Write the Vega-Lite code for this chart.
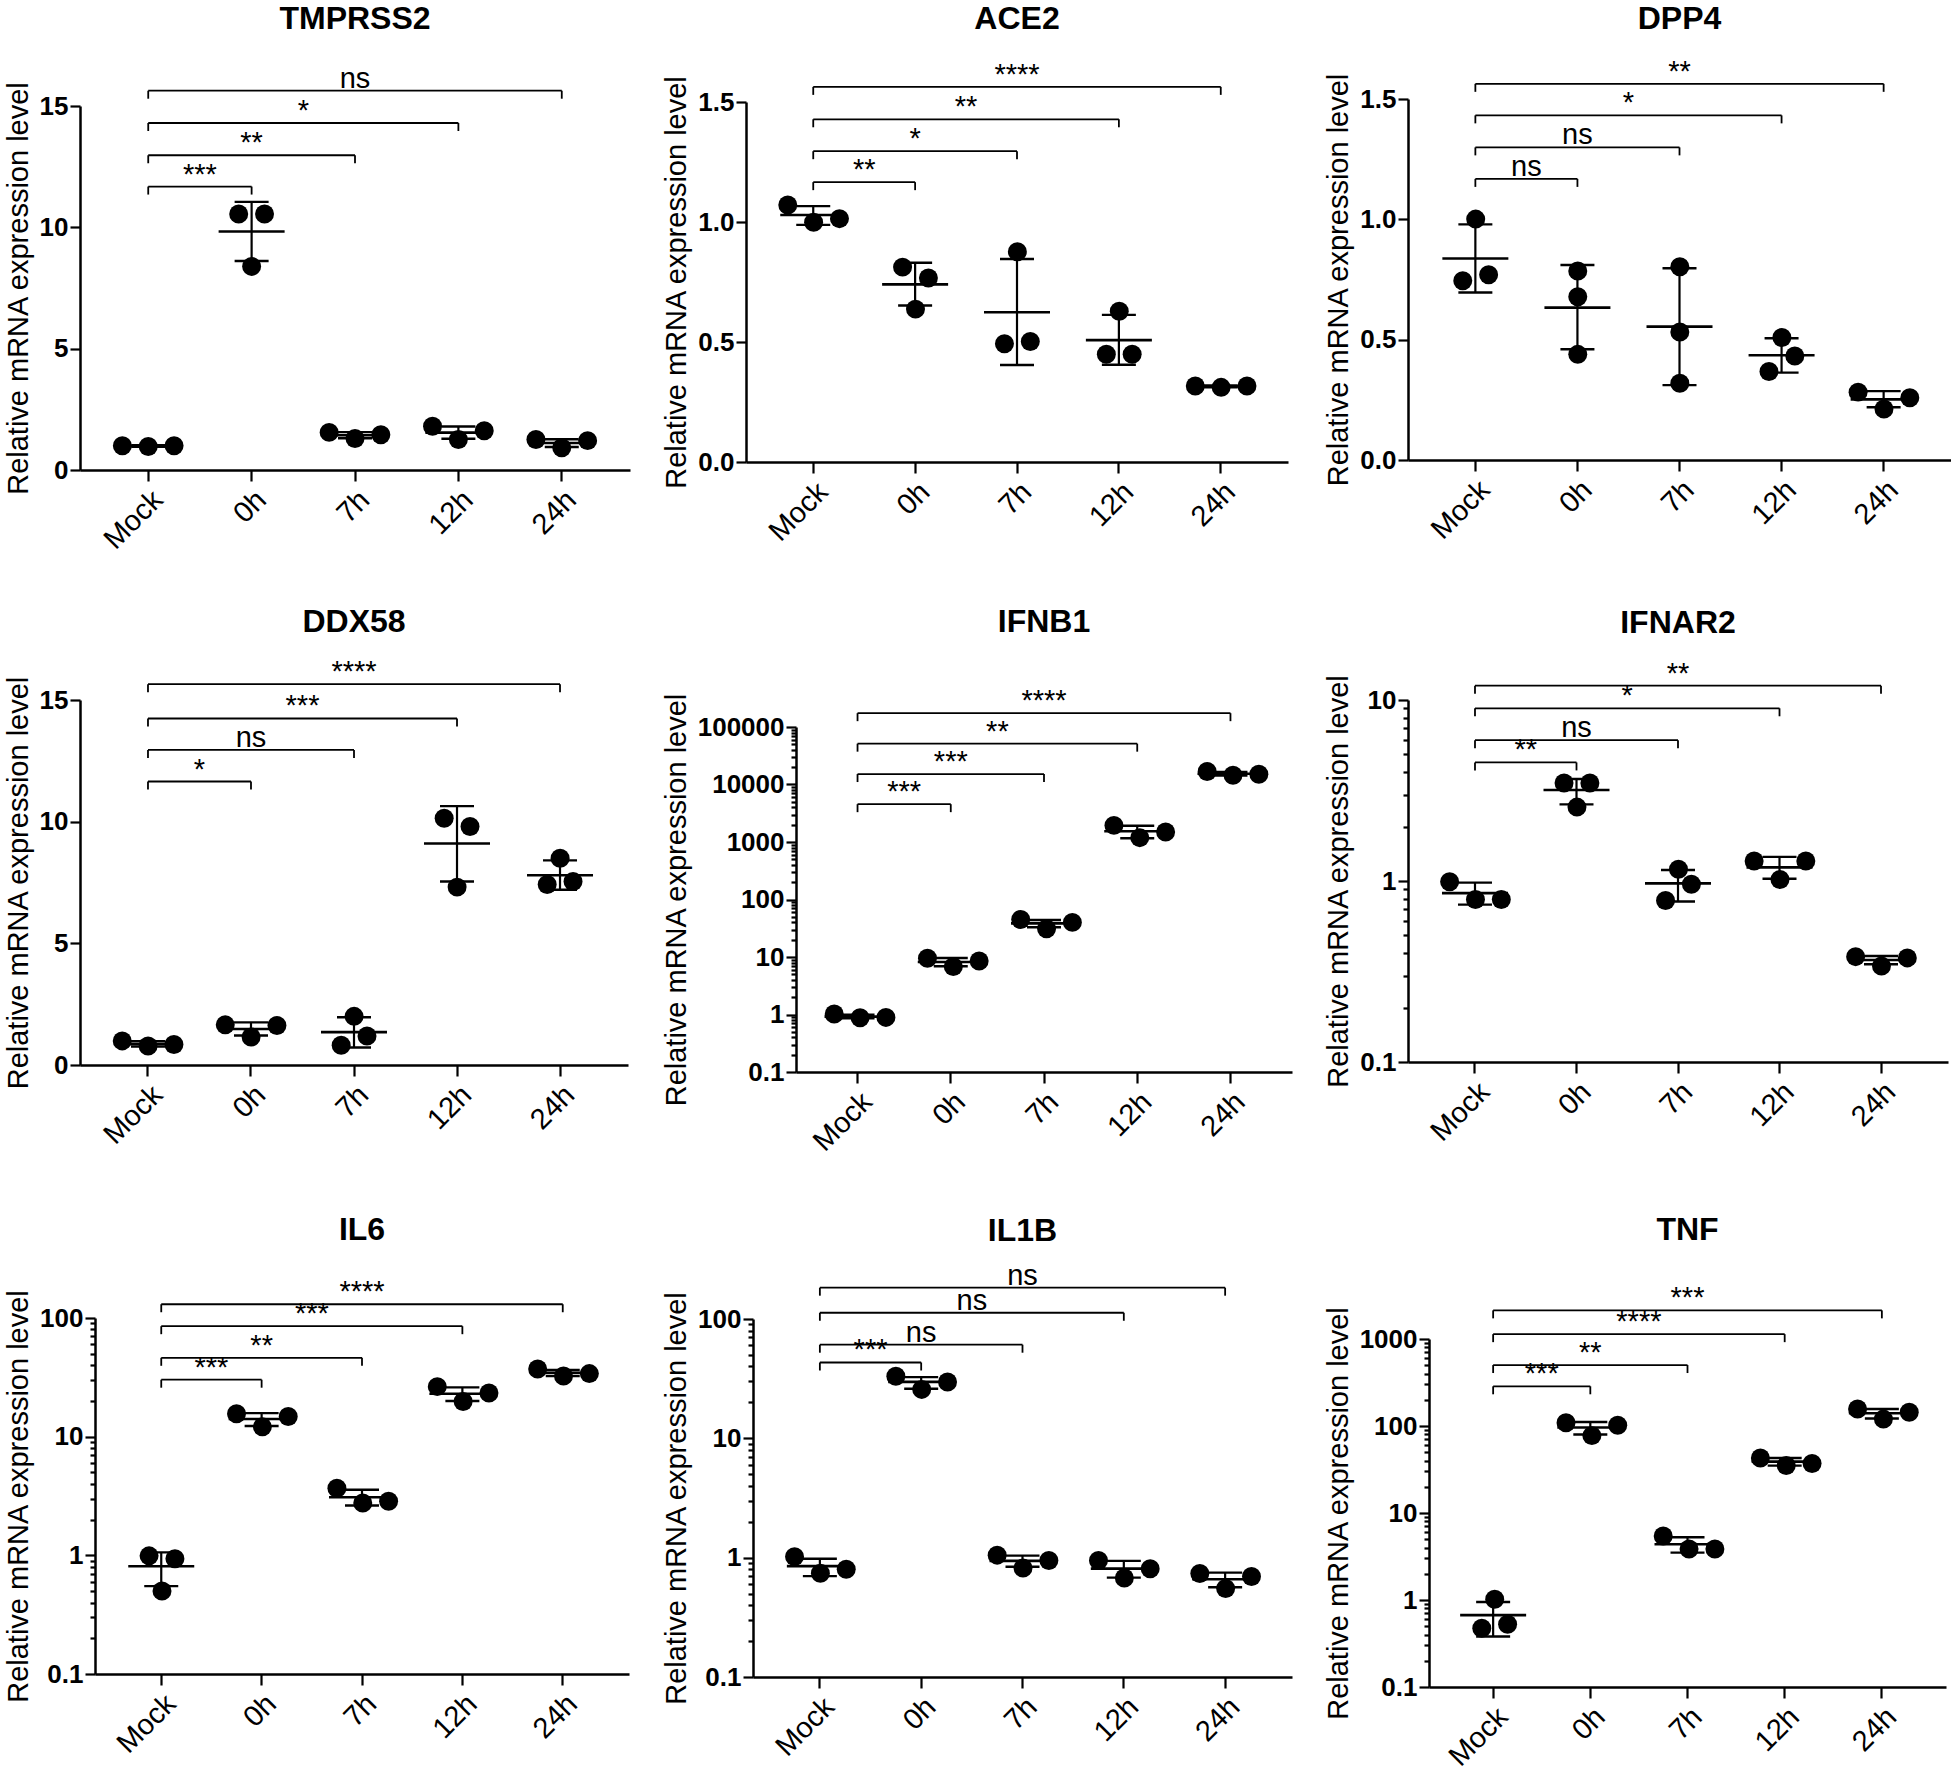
{
  "$schema": "https://vega.github.io/schema/vega-lite/v6.json",
  "padding": {"left": 3, "top": 1, "right": 0, "bottom": 0},
  "background": "white",
  "columns": 3,
  "spacing": {"row": 50, "column": 31},
  "datasets": {
    "pts": [
      {"g": "TMPRSS2", "t": "Mock", "s": "L", "v": 1.0}, {"g": "TMPRSS2", "t": "Mock", "s": "C", "v": 0.97}, {"g": "TMPRSS2", "t": "Mock", "s": "R", "v": 1.0},
      {"g": "TMPRSS2", "t": "0h", "s": "l", "v": 10.55}, {"g": "TMPRSS2", "t": "0h", "s": "r", "v": 10.55}, {"g": "TMPRSS2", "t": "0h", "s": "C", "v": 8.39},
      {"g": "TMPRSS2", "t": "7h", "s": "L", "v": 1.55}, {"g": "TMPRSS2", "t": "7h", "s": "C", "v": 1.3}, {"g": "TMPRSS2", "t": "7h", "s": "R", "v": 1.45},
      {"g": "TMPRSS2", "t": "12h", "s": "L", "v": 1.8}, {"g": "TMPRSS2", "t": "12h", "s": "C", "v": 1.26}, {"g": "TMPRSS2", "t": "12h", "s": "R", "v": 1.62},
      {"g": "TMPRSS2", "t": "24h", "s": "L", "v": 1.26}, {"g": "TMPRSS2", "t": "24h", "s": "C", "v": 0.92}, {"g": "TMPRSS2", "t": "24h", "s": "R", "v": 1.21},
      {"g": "ACE2", "t": "Mock", "s": "L", "v": 1.071}, {"g": "ACE2", "t": "Mock", "s": "C", "v": 0.999}, {"g": "ACE2", "t": "Mock", "s": "R", "v": 1.014},
      {"g": "ACE2", "t": "0h", "s": "l", "v": 0.812}, {"g": "ACE2", "t": "0h", "s": "r", "v": 0.767}, {"g": "ACE2", "t": "0h", "s": "C", "v": 0.637},
      {"g": "ACE2", "t": "7h", "s": "C", "v": 0.876}, {"g": "ACE2", "t": "7h", "s": "l", "v": 0.493}, {"g": "ACE2", "t": "7h", "s": "r", "v": 0.502},
      {"g": "ACE2", "t": "12h", "s": "C", "v": 0.628}, {"g": "ACE2", "t": "12h", "s": "l", "v": 0.449}, {"g": "ACE2", "t": "12h", "s": "r", "v": 0.449},
      {"g": "ACE2", "t": "24h", "s": "L", "v": 0.317}, {"g": "ACE2", "t": "24h", "s": "C", "v": 0.311}, {"g": "ACE2", "t": "24h", "s": "R", "v": 0.317},
      {"g": "DPP4", "t": "Mock", "s": "C", "v": 1.001}, {"g": "DPP4", "t": "Mock", "s": "l", "v": 0.745}, {"g": "DPP4", "t": "Mock", "s": "r", "v": 0.77},
      {"g": "DPP4", "t": "0h", "s": "C", "v": 0.785}, {"g": "DPP4", "t": "0h", "s": "C", "v": 0.678}, {"g": "DPP4", "t": "0h", "s": "C", "v": 0.439},
      {"g": "DPP4", "t": "7h", "s": "C", "v": 0.803}, {"g": "DPP4", "t": "7h", "s": "C", "v": 0.532}, {"g": "DPP4", "t": "7h", "s": "C", "v": 0.319},
      {"g": "DPP4", "t": "12h", "s": "C", "v": 0.509}, {"g": "DPP4", "t": "12h", "s": "r", "v": 0.432}, {"g": "DPP4", "t": "12h", "s": "l", "v": 0.368},
      {"g": "DPP4", "t": "24h", "s": "L", "v": 0.282}, {"g": "DPP4", "t": "24h", "s": "R", "v": 0.259}, {"g": "DPP4", "t": "24h", "s": "C", "v": 0.212},
      {"g": "DDX58", "t": "Mock", "s": "L", "v": 0.99}, {"g": "DDX58", "t": "Mock", "s": "C", "v": 0.78}, {"g": "DDX58", "t": "Mock", "s": "R", "v": 0.84},
      {"g": "DDX58", "t": "0h", "s": "L", "v": 1.65}, {"g": "DDX58", "t": "0h", "s": "C", "v": 1.15}, {"g": "DDX58", "t": "0h", "s": "R", "v": 1.62},
      {"g": "DDX58", "t": "7h", "s": "C", "v": 2.0}, {"g": "DDX58", "t": "7h", "s": "r", "v": 1.19}, {"g": "DDX58", "t": "7h", "s": "l", "v": 0.81},
      {"g": "DDX58", "t": "12h", "s": "l", "v": 10.14}, {"g": "DDX58", "t": "12h", "s": "r", "v": 9.8}, {"g": "DDX58", "t": "12h", "s": "C", "v": 7.31},
      {"g": "DDX58", "t": "24h", "s": "C", "v": 8.5}, {"g": "DDX58", "t": "24h", "s": "l", "v": 7.42}, {"g": "DDX58", "t": "24h", "s": "r", "v": 7.54},
      {"g": "IFNB1", "t": "Mock", "s": "L", "v": 1.02}, {"g": "IFNB1", "t": "Mock", "s": "C", "v": 0.88}, {"g": "IFNB1", "t": "Mock", "s": "R", "v": 0.89},
      {"g": "IFNB1", "t": "0h", "s": "L", "v": 9.5}, {"g": "IFNB1", "t": "0h", "s": "C", "v": 6.8}, {"g": "IFNB1", "t": "0h", "s": "R", "v": 8.5},
      {"g": "IFNB1", "t": "7h", "s": "L", "v": 45}, {"g": "IFNB1", "t": "7h", "s": "C", "v": 31}, {"g": "IFNB1", "t": "7h", "s": "R", "v": 40},
      {"g": "IFNB1", "t": "12h", "s": "L", "v": 1945}, {"g": "IFNB1", "t": "12h", "s": "C", "v": 1190}, {"g": "IFNB1", "t": "12h", "s": "R", "v": 1490},
      {"g": "IFNB1", "t": "24h", "s": "L", "v": 16800}, {"g": "IFNB1", "t": "24h", "s": "C", "v": 14500}, {"g": "IFNB1", "t": "24h", "s": "R", "v": 15100},
      {"g": "IFNAR2", "t": "Mock", "s": "L", "v": 0.99}, {"g": "IFNAR2", "t": "Mock", "s": "C", "v": 0.79}, {"g": "IFNAR2", "t": "Mock", "s": "R", "v": 0.79},
      {"g": "IFNAR2", "t": "0h", "s": "l", "v": 3.48}, {"g": "IFNAR2", "t": "0h", "s": "r", "v": 3.48}, {"g": "IFNAR2", "t": "0h", "s": "C", "v": 2.56},
      {"g": "IFNAR2", "t": "7h", "s": "C", "v": 1.16}, {"g": "IFNAR2", "t": "7h", "s": "r", "v": 0.96}, {"g": "IFNAR2", "t": "7h", "s": "l", "v": 0.78},
      {"g": "IFNAR2", "t": "12h", "s": "L", "v": 1.29}, {"g": "IFNAR2", "t": "12h", "s": "R", "v": 1.29}, {"g": "IFNAR2", "t": "12h", "s": "C", "v": 1.02},
      {"g": "IFNAR2", "t": "24h", "s": "L", "v": 0.382}, {"g": "IFNAR2", "t": "24h", "s": "R", "v": 0.376}, {"g": "IFNAR2", "t": "24h", "s": "C", "v": 0.339},
      {"g": "IL6", "t": "Mock", "s": "l", "v": 0.99}, {"g": "IL6", "t": "Mock", "s": "r", "v": 0.935}, {"g": "IL6", "t": "Mock", "s": "C", "v": 0.5},
      {"g": "IL6", "t": "0h", "s": "L", "v": 15.6}, {"g": "IL6", "t": "0h", "s": "R", "v": 14.8}, {"g": "IL6", "t": "0h", "s": "C", "v": 12.1},
      {"g": "IL6", "t": "7h", "s": "L", "v": 3.68}, {"g": "IL6", "t": "7h", "s": "C", "v": 2.76}, {"g": "IL6", "t": "7h", "s": "R", "v": 2.86},
      {"g": "IL6", "t": "12h", "s": "L", "v": 26.4}, {"g": "IL6", "t": "12h", "s": "C", "v": 19.8}, {"g": "IL6", "t": "12h", "s": "R", "v": 23.3},
      {"g": "IL6", "t": "24h", "s": "L", "v": 37.2}, {"g": "IL6", "t": "24h", "s": "C", "v": 32.5}, {"g": "IL6", "t": "24h", "s": "R", "v": 34.0},
      {"g": "IL1B", "t": "Mock", "s": "L", "v": 1.02}, {"g": "IL1B", "t": "Mock", "s": "C", "v": 0.74}, {"g": "IL1B", "t": "Mock", "s": "R", "v": 0.8},
      {"g": "IL1B", "t": "0h", "s": "L", "v": 33.1}, {"g": "IL1B", "t": "0h", "s": "C", "v": 25.7}, {"g": "IL1B", "t": "0h", "s": "R", "v": 29.7},
      {"g": "IL1B", "t": "7h", "s": "L", "v": 1.05}, {"g": "IL1B", "t": "7h", "s": "C", "v": 0.82}, {"g": "IL1B", "t": "7h", "s": "R", "v": 0.946},
      {"g": "IL1B", "t": "12h", "s": "L", "v": 0.946}, {"g": "IL1B", "t": "12h", "s": "C", "v": 0.675}, {"g": "IL1B", "t": "12h", "s": "R", "v": 0.807},
      {"g": "IL1B", "t": "24h", "s": "L", "v": 0.736}, {"g": "IL1B", "t": "24h", "s": "C", "v": 0.552}, {"g": "IL1B", "t": "24h", "s": "R", "v": 0.695},
      {"g": "TNF", "t": "Mock", "s": "C", "v": 1.02}, {"g": "TNF", "t": "Mock", "s": "r", "v": 0.527}, {"g": "TNF", "t": "Mock", "s": "l", "v": 0.473},
      {"g": "TNF", "t": "0h", "s": "L", "v": 109}, {"g": "TNF", "t": "0h", "s": "C", "v": 77.5}, {"g": "TNF", "t": "0h", "s": "R", "v": 102},
      {"g": "TNF", "t": "7h", "s": "L", "v": 5.43}, {"g": "TNF", "t": "7h", "s": "C", "v": 3.85}, {"g": "TNF", "t": "7h", "s": "R", "v": 3.85},
      {"g": "TNF", "t": "12h", "s": "L", "v": 42.9}, {"g": "TNF", "t": "12h", "s": "C", "v": 35.2}, {"g": "TNF", "t": "12h", "s": "R", "v": 37.0},
      {"g": "TNF", "t": "24h", "s": "L", "v": 157}, {"g": "TNF", "t": "24h", "s": "C", "v": 120}, {"g": "TNF", "t": "24h", "s": "R", "v": 144}
    ],
    "st": [
      {"g": "TMPRSS2", "t": "Mock", "m": 0.99, "lo": 0.96, "hi": 1.02}, {"g": "TMPRSS2", "t": "0h", "m": 9.83, "lo": 8.61, "hi": 11.05}, {"g": "TMPRSS2", "t": "7h", "m": 1.43, "lo": 1.31, "hi": 1.56}, {"g": "TMPRSS2", "t": "12h", "m": 1.54, "lo": 1.29, "hi": 1.79}, {"g": "TMPRSS2", "t": "24h", "m": 1.11, "lo": 0.95, "hi": 1.27},
      {"g": "ACE2", "t": "Mock", "m": 1.029, "lo": 0.988, "hi": 1.066}, {"g": "ACE2", "t": "0h", "m": 0.74, "lo": 0.652, "hi": 0.83}, {"g": "ACE2", "t": "7h", "m": 0.624, "lo": 0.404, "hi": 0.846}, {"g": "ACE2", "t": "12h", "m": 0.508, "lo": 0.405, "hi": 0.613}, {"g": "ACE2", "t": "24h", "m": 0.315, "lo": 0.311, "hi": 0.319},
      {"g": "DPP4", "t": "Mock", "m": 0.837, "lo": 0.696, "hi": 0.979}, {"g": "DPP4", "t": "0h", "m": 0.633, "lo": 0.46, "hi": 0.81}, {"g": "DPP4", "t": "7h", "m": 0.554, "lo": 0.311, "hi": 0.797}, {"g": "DPP4", "t": "12h", "m": 0.435, "lo": 0.363, "hi": 0.506}, {"g": "DPP4", "t": "24h", "m": 0.252, "lo": 0.219, "hi": 0.286},
      {"g": "DDX58", "t": "Mock", "m": 0.87, "lo": 0.76, "hi": 0.98}, {"g": "DDX58", "t": "0h", "m": 1.48, "lo": 1.21, "hi": 1.75}, {"g": "DDX58", "t": "7h", "m": 1.35, "lo": 0.72, "hi": 1.96}, {"g": "DDX58", "t": "12h", "m": 9.1, "lo": 7.54, "hi": 10.64}, {"g": "DDX58", "t": "24h", "m": 7.8, "lo": 7.2, "hi": 8.41},
      {"g": "IFNB1", "t": "Mock", "m": 0.92, "lo": 0.86, "hi": 0.99}, {"g": "IFNB1", "t": "0h", "m": 8.2, "lo": 6.9, "hi": 9.6}, {"g": "IFNB1", "t": "7h", "m": 38.5, "lo": 33, "hi": 44}, {"g": "IFNB1", "t": "12h", "m": 1540, "lo": 1165, "hi": 1920}, {"g": "IFNB1", "t": "24h", "m": 15400, "lo": 14300, "hi": 16600},
      {"g": "IFNAR2", "t": "Mock", "m": 0.857, "lo": 0.74, "hi": 0.98}, {"g": "IFNAR2", "t": "0h", "m": 3.18, "lo": 2.65, "hi": 3.66}, {"g": "IFNAR2", "t": "7h", "m": 0.97, "lo": 0.77, "hi": 1.15}, {"g": "IFNAR2", "t": "12h", "m": 1.19, "lo": 1.03, "hi": 1.36}, {"g": "IFNAR2", "t": "24h", "m": 0.366, "lo": 0.347, "hi": 0.385},
      {"g": "IL6", "t": "Mock", "m": 0.81, "lo": 0.55, "hi": 1.06}, {"g": "IL6", "t": "0h", "m": 14.1, "lo": 12.3, "hi": 15.8}, {"g": "IL6", "t": "7h", "m": 3.09, "lo": 2.63, "hi": 3.57}, {"g": "IL6", "t": "12h", "m": 23.0, "lo": 20.0, "hi": 26.0}, {"g": "IL6", "t": "24h", "m": 34.5, "lo": 32.4, "hi": 36.5},
      {"g": "IL1B", "t": "Mock", "m": 0.85, "lo": 0.7, "hi": 0.98}, {"g": "IL1B", "t": "0h", "m": 29.7, "lo": 26.0, "hi": 32.6}, {"g": "IL1B", "t": "7h", "m": 0.94, "lo": 0.84, "hi": 1.04}, {"g": "IL1B", "t": "12h", "m": 0.81, "lo": 0.68, "hi": 0.94}, {"g": "IL1B", "t": "24h", "m": 0.66, "lo": 0.565, "hi": 0.75},
      {"g": "TNF", "t": "Mock", "m": 0.67, "lo": 0.38, "hi": 0.95}, {"g": "TNF", "t": "0h", "m": 96, "lo": 80, "hi": 111}, {"g": "TNF", "t": "7h", "m": 4.38, "lo": 3.5, "hi": 5.27}, {"g": "TNF", "t": "12h", "m": 38.9, "lo": 35, "hi": 42.9}, {"g": "TNF", "t": "24h", "m": 140, "lo": 122, "hi": 157}
    ],
    "sig": [
      {"g": "TMPRSS2", "from": "Mock", "to": "0h", "mid": "a", "y": 11.68, "lab": "***"}, {"g": "TMPRSS2", "from": "Mock", "to": "7h", "mid": "0h", "y": 12.97, "lab": "**"}, {"g": "TMPRSS2", "from": "Mock", "to": "12h", "mid": "b", "y": 14.3, "lab": "*"}, {"g": "TMPRSS2", "from": "Mock", "to": "24h", "mid": "7h", "y": 15.63, "lab": "ns"},
      {"g": "ACE2", "from": "Mock", "to": "0h", "mid": "a", "y": 1.166, "lab": "**"}, {"g": "ACE2", "from": "Mock", "to": "7h", "mid": "0h", "y": 1.295, "lab": "*"}, {"g": "ACE2", "from": "Mock", "to": "12h", "mid": "b", "y": 1.428, "lab": "**"}, {"g": "ACE2", "from": "Mock", "to": "24h", "mid": "7h", "y": 1.563, "lab": "****"},
      {"g": "DPP4", "from": "Mock", "to": "0h", "mid": "a", "y": 1.168, "lab": "ns"}, {"g": "DPP4", "from": "Mock", "to": "7h", "mid": "0h", "y": 1.299, "lab": "ns"}, {"g": "DPP4", "from": "Mock", "to": "12h", "mid": "b", "y": 1.432, "lab": "*"}, {"g": "DPP4", "from": "Mock", "to": "24h", "mid": "7h", "y": 1.563, "lab": "**"},
      {"g": "DDX58", "from": "Mock", "to": "0h", "mid": "a", "y": 11.65, "lab": "*"}, {"g": "DDX58", "from": "Mock", "to": "7h", "mid": "0h", "y": 12.95, "lab": "ns"}, {"g": "DDX58", "from": "Mock", "to": "12h", "mid": "b", "y": 14.24, "lab": "***"}, {"g": "DDX58", "from": "Mock", "to": "24h", "mid": "7h", "y": 15.65, "lab": "****"},
      {"g": "IFNB1", "from": "Mock", "to": "0h", "mid": "a", "y": 4550, "lab": "***"}, {"g": "IFNB1", "from": "Mock", "to": "7h", "mid": "0h", "y": 15200, "lab": "***"}, {"g": "IFNB1", "from": "Mock", "to": "12h", "mid": "b", "y": 51300, "lab": "**"}, {"g": "IFNB1", "from": "Mock", "to": "24h", "mid": "7h", "y": 174000, "lab": "****"},
      {"g": "IFNAR2", "from": "Mock", "to": "0h", "mid": "a", "y": 4.52, "lab": "**"}, {"g": "IFNAR2", "from": "Mock", "to": "7h", "mid": "0h", "y": 6.0, "lab": "ns"}, {"g": "IFNAR2", "from": "Mock", "to": "12h", "mid": "b", "y": 9.0, "lab": "*"}, {"g": "IFNAR2", "from": "Mock", "to": "24h", "mid": "7h", "y": 12.0, "lab": "**"},
      {"g": "IL6", "from": "Mock", "to": "0h", "mid": "a", "y": 30.2, "lab": "***"}, {"g": "IL6", "from": "Mock", "to": "7h", "mid": "0h", "y": 46.2, "lab": "**"}, {"g": "IL6", "from": "Mock", "to": "12h", "mid": "b", "y": 85.3, "lab": "***"}, {"g": "IL6", "from": "Mock", "to": "24h", "mid": "7h", "y": 130.6, "lab": "****"},
      {"g": "IL1B", "from": "Mock", "to": "0h", "mid": "a", "y": 43.2, "lab": "***"}, {"g": "IL1B", "from": "Mock", "to": "7h", "mid": "0h", "y": 60.9, "lab": "ns"}, {"g": "IL1B", "from": "Mock", "to": "12h", "mid": "b", "y": 112.8, "lab": "ns"}, {"g": "IL1B", "from": "Mock", "to": "24h", "mid": "7h", "y": 183, "lab": "ns"},
      {"g": "TNF", "from": "Mock", "to": "0h", "mid": "a", "y": 286, "lab": "***"}, {"g": "TNF", "from": "Mock", "to": "7h", "mid": "0h", "y": 502, "lab": "**"}, {"g": "TNF", "from": "Mock", "to": "12h", "mid": "b", "y": 1137, "lab": "****"}, {"g": "TNF", "from": "Mock", "to": "24h", "mid": "7h", "y": 2134, "lab": "***"}
    ]
  },
  "concat": [
    {"spacing": 0, "vconcat": [
      {"width": 1, "height": 1, "data": {"values": []}, "mark": "point", "encoding": {}},
      {"spacing": 0, "hconcat": [
        {"width": 1, "height": 1, "data": {"values": []}, "mark": "point", "encoding": {}},
        {
          "width": 550, "height": 364, "title": {"text": "TMPRSS2", "offset": 29},
          "layer": [
            {"data": {"name": "sig"}, "transform": [{"filter": "datum.g == 'TMPRSS2'"}], "mark": {"type": "rule", "strokeWidth": 1.8, "color": "black"}, "encoding": {"x": {"field": "from", "type": "nominal", "title": null}, "x2": {"field": "to"}, "y": {"field": "y", "type": "quantitative", "title": "Relative mRNA expression level"}}},
            {"data": {"name": "sig"}, "transform": [{"filter": "datum.g == 'TMPRSS2'"}, {"fold": ["from", "to"], "as": ["end", "pos"]}], "mark": {"type": "rule", "strokeWidth": 1.8, "color": "black", "y2Offset": 8}, "encoding": {"x": {"field": "pos", "type": "nominal", "title": null}, "y": {"field": "y", "type": "quantitative", "title": "Relative mRNA expression level"}, "y2": {"field": "y"}}},
            {"data": {"name": "sig"}, "transform": [{"filter": "datum.g == 'TMPRSS2'"}], "mark": {"type": "text", "fontSize": 29, "baseline": "alphabetic", "dy": -3, "color": "black"}, "encoding": {"x": {"field": "mid", "type": "nominal", "title": null}, "y": {"field": "y", "type": "quantitative", "title": "Relative mRNA expression level"}, "text": {"field": "lab"}}},
            {"data": {"name": "st"}, "transform": [{"filter": "datum.g == 'TMPRSS2'"}], "mark": {"type": "rule", "strokeWidth": 2.2, "color": "black"}, "encoding": {"x": {"field": "t", "type": "nominal", "title": null}, "y": {"field": "lo", "type": "quantitative", "title": "Relative mRNA expression level"}, "y2": {"field": "hi"}}},
            {"data": {"name": "st"}, "transform": [{"filter": "datum.g == 'TMPRSS2'"}, {"fold": ["lo", "hi"], "as": ["k", "e"]}], "mark": {"type": "tick", "size": 34, "thickness": 2.4, "color": "black", "opacity": 1}, "encoding": {"x": {"field": "t", "type": "nominal", "title": null}, "y": {"field": "e", "type": "quantitative", "title": "Relative mRNA expression level"}}},
            {"data": {"name": "st"}, "transform": [{"filter": "datum.g == 'TMPRSS2'"}], "mark": {"type": "tick", "size": 66, "thickness": 2.6, "color": "black", "opacity": 1}, "encoding": {"x": {"field": "t", "type": "nominal", "title": null}, "y": {"field": "m", "type": "quantitative", "title": "Relative mRNA expression level"}}},
            {"data": {"name": "pts"}, "transform": [{"filter": "datum.g == 'TMPRSS2'"}], "mark": {"type": "circle", "size": 360, "color": "black", "opacity": 1}, "encoding": {"x": {"field": "t", "type": "nominal", "title": null, "scale": {"domain": ["Mock", "a", "0h", "b", "7h", "c", "12h", "d", "24h"], "paddingInner": 0, "paddingOuter": 0.82}, "axis": {"values": ["Mock", "0h", "7h", "12h", "24h"]}}, "xOffset": {"field": "s", "type": "nominal", "scale": {"domain": ["L", "l", "C", "r", "R"], "paddingInner": 0, "paddingOuter": 0}}, "y": {"field": "v", "type": "quantitative", "title": "Relative mRNA expression level", "scale": {"domain": [0, 15], "nice": false}, "axis": {"values": [0, 5, 10, 15]}}}}
          ]
        }
      ]}
    ]},
    {"spacing": 0, "vconcat": [
      {"width": 1, "height": 1, "data": {"values": []}, "mark": "point", "encoding": {}},
      {"spacing": 0, "hconcat": [
        {"width": 1, "height": 1, "data": {"values": []}, "mark": "point", "encoding": {}},
        {
          "width": 542, "height": 360, "title": {"text": "ACE2", "offset": 25},
          "layer": [
            {"data": {"name": "sig"}, "transform": [{"filter": "datum.g == 'ACE2'"}], "mark": {"type": "rule", "strokeWidth": 1.8, "color": "black"}, "encoding": {"x": {"field": "from", "type": "nominal", "title": null}, "x2": {"field": "to"}, "y": {"field": "y", "type": "quantitative", "title": "Relative mRNA expression level"}}},
            {"data": {"name": "sig"}, "transform": [{"filter": "datum.g == 'ACE2'"}, {"fold": ["from", "to"], "as": ["end", "pos"]}], "mark": {"type": "rule", "strokeWidth": 1.8, "color": "black", "y2Offset": 8}, "encoding": {"x": {"field": "pos", "type": "nominal", "title": null}, "y": {"field": "y", "type": "quantitative", "title": "Relative mRNA expression level"}, "y2": {"field": "y"}}},
            {"data": {"name": "sig"}, "transform": [{"filter": "datum.g == 'ACE2'"}], "mark": {"type": "text", "fontSize": 29, "baseline": "alphabetic", "dy": -3, "color": "black"}, "encoding": {"x": {"field": "mid", "type": "nominal", "title": null}, "y": {"field": "y", "type": "quantitative", "title": "Relative mRNA expression level"}, "text": {"field": "lab"}}},
            {"data": {"name": "st"}, "transform": [{"filter": "datum.g == 'ACE2'"}], "mark": {"type": "rule", "strokeWidth": 2.2, "color": "black"}, "encoding": {"x": {"field": "t", "type": "nominal", "title": null}, "y": {"field": "lo", "type": "quantitative", "title": "Relative mRNA expression level"}, "y2": {"field": "hi"}}},
            {"data": {"name": "st"}, "transform": [{"filter": "datum.g == 'ACE2'"}, {"fold": ["lo", "hi"], "as": ["k", "e"]}], "mark": {"type": "tick", "size": 34, "thickness": 2.4, "color": "black", "opacity": 1}, "encoding": {"x": {"field": "t", "type": "nominal", "title": null}, "y": {"field": "e", "type": "quantitative", "title": "Relative mRNA expression level"}}},
            {"data": {"name": "st"}, "transform": [{"filter": "datum.g == 'ACE2'"}], "mark": {"type": "tick", "size": 66, "thickness": 2.6, "color": "black", "opacity": 1}, "encoding": {"x": {"field": "t", "type": "nominal", "title": null}, "y": {"field": "m", "type": "quantitative", "title": "Relative mRNA expression level"}}},
            {"data": {"name": "pts"}, "transform": [{"filter": "datum.g == 'ACE2'"}], "mark": {"type": "circle", "size": 360, "color": "black", "opacity": 1}, "encoding": {"x": {"field": "t", "type": "nominal", "title": null, "scale": {"domain": ["Mock", "a", "0h", "b", "7h", "c", "12h", "d", "24h"], "paddingInner": 0, "paddingOuter": 0.82}, "axis": {"values": ["Mock", "0h", "7h", "12h", "24h"]}}, "xOffset": {"field": "s", "type": "nominal", "scale": {"domain": ["L", "l", "C", "r", "R"], "paddingInner": 0, "paddingOuter": 0}}, "y": {"field": "v", "type": "quantitative", "title": "Relative mRNA expression level", "scale": {"domain": [0, 1.5], "nice": false}, "axis": {"values": [0, 0.5, 1, 1.5], "format": ".1f"}}}}
          ]
        }
      ]}
    ]},
    {"spacing": 0, "vconcat": [
      {"width": 1, "height": 1, "data": {"values": []}, "mark": "point", "encoding": {}},
      {"spacing": 0, "hconcat": [
        {"width": 1, "height": 1, "data": {"values": []}, "mark": "point", "encoding": {}},
        {
          "width": 543, "height": 361, "title": {"text": "DPP4", "offset": 22},
          "layer": [
            {"data": {"name": "sig"}, "transform": [{"filter": "datum.g == 'DPP4'"}], "mark": {"type": "rule", "strokeWidth": 1.8, "color": "black"}, "encoding": {"x": {"field": "from", "type": "nominal", "title": null}, "x2": {"field": "to"}, "y": {"field": "y", "type": "quantitative", "title": "Relative mRNA expression level"}}},
            {"data": {"name": "sig"}, "transform": [{"filter": "datum.g == 'DPP4'"}, {"fold": ["from", "to"], "as": ["end", "pos"]}], "mark": {"type": "rule", "strokeWidth": 1.8, "color": "black", "y2Offset": 8}, "encoding": {"x": {"field": "pos", "type": "nominal", "title": null}, "y": {"field": "y", "type": "quantitative", "title": "Relative mRNA expression level"}, "y2": {"field": "y"}}},
            {"data": {"name": "sig"}, "transform": [{"filter": "datum.g == 'DPP4'"}], "mark": {"type": "text", "fontSize": 29, "baseline": "alphabetic", "dy": -3, "color": "black"}, "encoding": {"x": {"field": "mid", "type": "nominal", "title": null}, "y": {"field": "y", "type": "quantitative", "title": "Relative mRNA expression level"}, "text": {"field": "lab"}}},
            {"data": {"name": "st"}, "transform": [{"filter": "datum.g == 'DPP4'"}], "mark": {"type": "rule", "strokeWidth": 2.2, "color": "black"}, "encoding": {"x": {"field": "t", "type": "nominal", "title": null}, "y": {"field": "lo", "type": "quantitative", "title": "Relative mRNA expression level"}, "y2": {"field": "hi"}}},
            {"data": {"name": "st"}, "transform": [{"filter": "datum.g == 'DPP4'"}, {"fold": ["lo", "hi"], "as": ["k", "e"]}], "mark": {"type": "tick", "size": 34, "thickness": 2.4, "color": "black", "opacity": 1}, "encoding": {"x": {"field": "t", "type": "nominal", "title": null}, "y": {"field": "e", "type": "quantitative", "title": "Relative mRNA expression level"}}},
            {"data": {"name": "st"}, "transform": [{"filter": "datum.g == 'DPP4'"}], "mark": {"type": "tick", "size": 66, "thickness": 2.6, "color": "black", "opacity": 1}, "encoding": {"x": {"field": "t", "type": "nominal", "title": null}, "y": {"field": "m", "type": "quantitative", "title": "Relative mRNA expression level"}}},
            {"data": {"name": "pts"}, "transform": [{"filter": "datum.g == 'DPP4'"}], "mark": {"type": "circle", "size": 360, "color": "black", "opacity": 1}, "encoding": {"x": {"field": "t", "type": "nominal", "title": null, "scale": {"domain": ["Mock", "a", "0h", "b", "7h", "c", "12h", "d", "24h"], "paddingInner": 0, "paddingOuter": 0.82}, "axis": {"values": ["Mock", "0h", "7h", "12h", "24h"]}}, "xOffset": {"field": "s", "type": "nominal", "scale": {"domain": ["L", "l", "C", "r", "R"], "paddingInner": 0, "paddingOuter": 0}}, "y": {"field": "v", "type": "quantitative", "title": "Relative mRNA expression level", "scale": {"domain": [0, 1.5], "nice": false}, "axis": {"values": [0, 0.5, 1, 1.5], "format": ".1f"}}}}
          ]
        }
      ]}
    ]},
    {"spacing": 0, "vconcat": [
      {"width": 1, "height": 1, "data": {"values": []}, "mark": "point", "encoding": {}},
      {"spacing": 0, "hconcat": [
        {"width": 1, "height": 1, "data": {"values": []}, "mark": "point", "encoding": {}},
        {
          "width": 548, "height": 365, "title": {"text": "DDX58", "offset": 19},
          "layer": [
            {"data": {"name": "sig"}, "transform": [{"filter": "datum.g == 'DDX58'"}], "mark": {"type": "rule", "strokeWidth": 1.8, "color": "black"}, "encoding": {"x": {"field": "from", "type": "nominal", "title": null}, "x2": {"field": "to"}, "y": {"field": "y", "type": "quantitative", "title": "Relative mRNA expression level"}}},
            {"data": {"name": "sig"}, "transform": [{"filter": "datum.g == 'DDX58'"}, {"fold": ["from", "to"], "as": ["end", "pos"]}], "mark": {"type": "rule", "strokeWidth": 1.8, "color": "black", "y2Offset": 8}, "encoding": {"x": {"field": "pos", "type": "nominal", "title": null}, "y": {"field": "y", "type": "quantitative", "title": "Relative mRNA expression level"}, "y2": {"field": "y"}}},
            {"data": {"name": "sig"}, "transform": [{"filter": "datum.g == 'DDX58'"}], "mark": {"type": "text", "fontSize": 29, "baseline": "alphabetic", "dy": -3, "color": "black"}, "encoding": {"x": {"field": "mid", "type": "nominal", "title": null}, "y": {"field": "y", "type": "quantitative", "title": "Relative mRNA expression level"}, "text": {"field": "lab"}}},
            {"data": {"name": "st"}, "transform": [{"filter": "datum.g == 'DDX58'"}], "mark": {"type": "rule", "strokeWidth": 2.2, "color": "black"}, "encoding": {"x": {"field": "t", "type": "nominal", "title": null}, "y": {"field": "lo", "type": "quantitative", "title": "Relative mRNA expression level"}, "y2": {"field": "hi"}}},
            {"data": {"name": "st"}, "transform": [{"filter": "datum.g == 'DDX58'"}, {"fold": ["lo", "hi"], "as": ["k", "e"]}], "mark": {"type": "tick", "size": 34, "thickness": 2.4, "color": "black", "opacity": 1}, "encoding": {"x": {"field": "t", "type": "nominal", "title": null}, "y": {"field": "e", "type": "quantitative", "title": "Relative mRNA expression level"}}},
            {"data": {"name": "st"}, "transform": [{"filter": "datum.g == 'DDX58'"}], "mark": {"type": "tick", "size": 66, "thickness": 2.6, "color": "black", "opacity": 1}, "encoding": {"x": {"field": "t", "type": "nominal", "title": null}, "y": {"field": "m", "type": "quantitative", "title": "Relative mRNA expression level"}}},
            {"data": {"name": "pts"}, "transform": [{"filter": "datum.g == 'DDX58'"}], "mark": {"type": "circle", "size": 360, "color": "black", "opacity": 1}, "encoding": {"x": {"field": "t", "type": "nominal", "title": null, "scale": {"domain": ["Mock", "a", "0h", "b", "7h", "c", "12h", "d", "24h"], "paddingInner": 0, "paddingOuter": 0.82}, "axis": {"values": ["Mock", "0h", "7h", "12h", "24h"]}}, "xOffset": {"field": "s", "type": "nominal", "scale": {"domain": ["L", "l", "C", "r", "R"], "paddingInner": 0, "paddingOuter": 0}}, "y": {"field": "v", "type": "quantitative", "title": "Relative mRNA expression level", "scale": {"domain": [0, 15], "nice": false}, "axis": {"values": [0, 5, 10, 15]}}}}
          ]
        }
      ]}
    ]},
    {"spacing": 0, "vconcat": [
      {"width": 1, "height": 1, "data": {"values": []}, "mark": "point", "encoding": {}},
      {"spacing": 0, "hconcat": [
        {"width": 1, "height": 1, "data": {"values": []}, "mark": "point", "encoding": {}},
        {
          "width": 496, "height": 345, "title": {"text": "IFNB1", "offset": 48},
          "layer": [
            {"data": {"name": "sig"}, "transform": [{"filter": "datum.g == 'IFNB1'"}], "mark": {"type": "rule", "strokeWidth": 1.8, "color": "black"}, "encoding": {"x": {"field": "from", "type": "nominal", "title": null}, "x2": {"field": "to"}, "y": {"field": "y", "type": "quantitative", "title": "Relative mRNA expression level"}}},
            {"data": {"name": "sig"}, "transform": [{"filter": "datum.g == 'IFNB1'"}, {"fold": ["from", "to"], "as": ["end", "pos"]}], "mark": {"type": "rule", "strokeWidth": 1.8, "color": "black", "y2Offset": 8}, "encoding": {"x": {"field": "pos", "type": "nominal", "title": null}, "y": {"field": "y", "type": "quantitative", "title": "Relative mRNA expression level"}, "y2": {"field": "y"}}},
            {"data": {"name": "sig"}, "transform": [{"filter": "datum.g == 'IFNB1'"}], "mark": {"type": "text", "fontSize": 29, "baseline": "alphabetic", "dy": -3, "color": "black"}, "encoding": {"x": {"field": "mid", "type": "nominal", "title": null}, "y": {"field": "y", "type": "quantitative", "title": "Relative mRNA expression level"}, "text": {"field": "lab"}}},
            {"data": {"name": "st"}, "transform": [{"filter": "datum.g == 'IFNB1'"}], "mark": {"type": "rule", "strokeWidth": 2.2, "color": "black"}, "encoding": {"x": {"field": "t", "type": "nominal", "title": null}, "y": {"field": "lo", "type": "quantitative", "title": "Relative mRNA expression level"}, "y2": {"field": "hi"}}},
            {"data": {"name": "st"}, "transform": [{"filter": "datum.g == 'IFNB1'"}, {"fold": ["lo", "hi"], "as": ["k", "e"]}], "mark": {"type": "tick", "size": 34, "thickness": 2.4, "color": "black", "opacity": 1}, "encoding": {"x": {"field": "t", "type": "nominal", "title": null}, "y": {"field": "e", "type": "quantitative", "title": "Relative mRNA expression level"}}},
            {"data": {"name": "st"}, "transform": [{"filter": "datum.g == 'IFNB1'"}], "mark": {"type": "tick", "size": 66, "thickness": 2.6, "color": "black", "opacity": 1}, "encoding": {"x": {"field": "t", "type": "nominal", "title": null}, "y": {"field": "m", "type": "quantitative", "title": "Relative mRNA expression level"}}},
            {"data": {"name": "pts"}, "transform": [{"filter": "datum.g == 'IFNB1'"}], "mark": {"type": "circle", "size": 360, "color": "black", "opacity": 1}, "encoding": {"x": {"field": "t", "type": "nominal", "title": null, "scale": {"domain": ["Mock", "a", "0h", "b", "7h", "c", "12h", "d", "24h"], "paddingInner": 0, "paddingOuter": 0.82}, "axis": {"values": ["Mock", "0h", "7h", "12h", "24h"]}}, "xOffset": {"field": "s", "type": "nominal", "scale": {"domain": ["L", "l", "C", "r", "R"], "paddingInner": 0, "paddingOuter": 0}}, "y": {"field": "v", "type": "quantitative", "title": "Relative mRNA expression level", "scale": {"type": "log", "domain": [0.1, 100000], "nice": false}, "axis": {"values": [0.1, 0.2, 0.3, 0.4, 0.5, 0.6, 0.7, 0.8, 0.9, 1, 2, 3, 4, 5, 6, 7, 8, 9, 10, 20, 30, 40, 50, 60, 70, 80, 90, 100, 200, 300, 400, 500, 600, 700, 800, 900, 1000, 2000, 3000, 4000, 5000, 6000, 7000, 8000, 9000, 10000, 20000, 30000, 40000, 50000, 60000, 70000, 80000, 90000, 100000], "labelOverlap": false, "labelExpr": "abs(log(datum.value)/LN10 - round(log(datum.value)/LN10)) < 0.000001 ? format(datum.value, '~g') : ''", "tickSize": {"condition": {"test": "abs(log(datum.value)/LN10 - round(log(datum.value)/LN10)) < 0.000001", "value": 10}, "value": 5}}}}}
          ]
        }
      ]}
    ]},
    {"spacing": 0, "vconcat": [
      {"width": 1, "height": 1, "data": {"values": []}, "mark": "point", "encoding": {}},
      {"spacing": 0, "hconcat": [
        {"width": 1, "height": 1, "data": {"values": []}, "mark": "point", "encoding": {}},
        {
          "width": 540, "height": 362, "title": {"text": "IFNAR2", "offset": 20},
          "layer": [
            {"data": {"name": "sig"}, "transform": [{"filter": "datum.g == 'IFNAR2'"}], "mark": {"type": "rule", "strokeWidth": 1.8, "color": "black"}, "encoding": {"x": {"field": "from", "type": "nominal", "title": null}, "x2": {"field": "to"}, "y": {"field": "y", "type": "quantitative", "title": "Relative mRNA expression level"}}},
            {"data": {"name": "sig"}, "transform": [{"filter": "datum.g == 'IFNAR2'"}, {"fold": ["from", "to"], "as": ["end", "pos"]}], "mark": {"type": "rule", "strokeWidth": 1.8, "color": "black", "y2Offset": 8}, "encoding": {"x": {"field": "pos", "type": "nominal", "title": null}, "y": {"field": "y", "type": "quantitative", "title": "Relative mRNA expression level"}, "y2": {"field": "y"}}},
            {"data": {"name": "sig"}, "transform": [{"filter": "datum.g == 'IFNAR2'"}], "mark": {"type": "text", "fontSize": 29, "baseline": "alphabetic", "dy": -3, "color": "black"}, "encoding": {"x": {"field": "mid", "type": "nominal", "title": null}, "y": {"field": "y", "type": "quantitative", "title": "Relative mRNA expression level"}, "text": {"field": "lab"}}},
            {"data": {"name": "st"}, "transform": [{"filter": "datum.g == 'IFNAR2'"}], "mark": {"type": "rule", "strokeWidth": 2.2, "color": "black"}, "encoding": {"x": {"field": "t", "type": "nominal", "title": null}, "y": {"field": "lo", "type": "quantitative", "title": "Relative mRNA expression level"}, "y2": {"field": "hi"}}},
            {"data": {"name": "st"}, "transform": [{"filter": "datum.g == 'IFNAR2'"}, {"fold": ["lo", "hi"], "as": ["k", "e"]}], "mark": {"type": "tick", "size": 34, "thickness": 2.4, "color": "black", "opacity": 1}, "encoding": {"x": {"field": "t", "type": "nominal", "title": null}, "y": {"field": "e", "type": "quantitative", "title": "Relative mRNA expression level"}}},
            {"data": {"name": "st"}, "transform": [{"filter": "datum.g == 'IFNAR2'"}], "mark": {"type": "tick", "size": 66, "thickness": 2.6, "color": "black", "opacity": 1}, "encoding": {"x": {"field": "t", "type": "nominal", "title": null}, "y": {"field": "m", "type": "quantitative", "title": "Relative mRNA expression level"}}},
            {"data": {"name": "pts"}, "transform": [{"filter": "datum.g == 'IFNAR2'"}], "mark": {"type": "circle", "size": 360, "color": "black", "opacity": 1}, "encoding": {"x": {"field": "t", "type": "nominal", "title": null, "scale": {"domain": ["Mock", "a", "0h", "b", "7h", "c", "12h", "d", "24h"], "paddingInner": 0, "paddingOuter": 0.82}, "axis": {"values": ["Mock", "0h", "7h", "12h", "24h"]}}, "xOffset": {"field": "s", "type": "nominal", "scale": {"domain": ["L", "l", "C", "r", "R"], "paddingInner": 0, "paddingOuter": 0}}, "y": {"field": "v", "type": "quantitative", "title": "Relative mRNA expression level", "scale": {"type": "log", "domain": [0.1, 10], "nice": false}, "axis": {"values": [0.1, 0.2, 0.3, 0.4, 0.5, 0.6, 0.7, 0.8, 0.9, 1, 2, 3, 4, 5, 6, 7, 8, 9, 10], "labelOverlap": false, "labelExpr": "abs(log(datum.value)/LN10 - round(log(datum.value)/LN10)) < 0.000001 ? format(datum.value, '~g') : ''", "tickSize": {"condition": {"test": "abs(log(datum.value)/LN10 - round(log(datum.value)/LN10)) < 0.000001", "value": 10}, "value": 5}}}}}
          ]
        }
      ]}
    ]},
    {"spacing": 0, "vconcat": [
      {"width": 1, "height": 7, "data": {"values": []}, "mark": "point", "encoding": {}},
      {"spacing": 0, "hconcat": [
        {"width": 1, "height": 1, "data": {"values": []}, "mark": "point", "encoding": {}},
        {
          "width": 534, "height": 356, "title": {"text": "IL6", "offset": 31},
          "layer": [
            {"data": {"name": "sig"}, "transform": [{"filter": "datum.g == 'IL6'"}], "mark": {"type": "rule", "strokeWidth": 1.8, "color": "black"}, "encoding": {"x": {"field": "from", "type": "nominal", "title": null}, "x2": {"field": "to"}, "y": {"field": "y", "type": "quantitative", "title": "Relative mRNA expression level"}}},
            {"data": {"name": "sig"}, "transform": [{"filter": "datum.g == 'IL6'"}, {"fold": ["from", "to"], "as": ["end", "pos"]}], "mark": {"type": "rule", "strokeWidth": 1.8, "color": "black", "y2Offset": 8}, "encoding": {"x": {"field": "pos", "type": "nominal", "title": null}, "y": {"field": "y", "type": "quantitative", "title": "Relative mRNA expression level"}, "y2": {"field": "y"}}},
            {"data": {"name": "sig"}, "transform": [{"filter": "datum.g == 'IL6'"}], "mark": {"type": "text", "fontSize": 29, "baseline": "alphabetic", "dy": -3, "color": "black"}, "encoding": {"x": {"field": "mid", "type": "nominal", "title": null}, "y": {"field": "y", "type": "quantitative", "title": "Relative mRNA expression level"}, "text": {"field": "lab"}}},
            {"data": {"name": "st"}, "transform": [{"filter": "datum.g == 'IL6'"}], "mark": {"type": "rule", "strokeWidth": 2.2, "color": "black"}, "encoding": {"x": {"field": "t", "type": "nominal", "title": null}, "y": {"field": "lo", "type": "quantitative", "title": "Relative mRNA expression level"}, "y2": {"field": "hi"}}},
            {"data": {"name": "st"}, "transform": [{"filter": "datum.g == 'IL6'"}, {"fold": ["lo", "hi"], "as": ["k", "e"]}], "mark": {"type": "tick", "size": 34, "thickness": 2.4, "color": "black", "opacity": 1}, "encoding": {"x": {"field": "t", "type": "nominal", "title": null}, "y": {"field": "e", "type": "quantitative", "title": "Relative mRNA expression level"}}},
            {"data": {"name": "st"}, "transform": [{"filter": "datum.g == 'IL6'"}], "mark": {"type": "tick", "size": 66, "thickness": 2.6, "color": "black", "opacity": 1}, "encoding": {"x": {"field": "t", "type": "nominal", "title": null}, "y": {"field": "m", "type": "quantitative", "title": "Relative mRNA expression level"}}},
            {"data": {"name": "pts"}, "transform": [{"filter": "datum.g == 'IL6'"}], "mark": {"type": "circle", "size": 360, "color": "black", "opacity": 1}, "encoding": {"x": {"field": "t", "type": "nominal", "title": null, "scale": {"domain": ["Mock", "a", "0h", "b", "7h", "c", "12h", "d", "24h"], "paddingInner": 0, "paddingOuter": 0.82}, "axis": {"values": ["Mock", "0h", "7h", "12h", "24h"]}}, "xOffset": {"field": "s", "type": "nominal", "scale": {"domain": ["L", "l", "C", "r", "R"], "paddingInner": 0, "paddingOuter": 0}}, "y": {"field": "v", "type": "quantitative", "title": "Relative mRNA expression level", "scale": {"type": "log", "domain": [0.1, 100], "nice": false}, "axis": {"values": [0.1, 0.2, 0.3, 0.4, 0.5, 0.6, 0.7, 0.8, 0.9, 1, 2, 3, 4, 5, 6, 7, 8, 9, 10, 20, 30, 40, 50, 60, 70, 80, 90, 100], "labelOverlap": false, "labelExpr": "abs(log(datum.value)/LN10 - round(log(datum.value)/LN10)) < 0.000001 ? format(datum.value, '~g') : ''", "tickSize": {"condition": {"test": "abs(log(datum.value)/LN10 - round(log(datum.value)/LN10)) < 0.000001", "value": 10}, "value": 5}}}}}
          ]
        }
      ]}
    ]},
    {"spacing": 0, "vconcat": [
      {"width": 1, "height": 7, "data": {"values": []}, "mark": "point", "encoding": {}},
      {"spacing": 0, "hconcat": [
        {"width": 1, "height": 1, "data": {"values": []}, "mark": "point", "encoding": {}},
        {
          "width": 539, "height": 358, "title": {"text": "IL1B", "offset": 14},
          "layer": [
            {"data": {"name": "sig"}, "transform": [{"filter": "datum.g == 'IL1B'"}], "mark": {"type": "rule", "strokeWidth": 1.8, "color": "black"}, "encoding": {"x": {"field": "from", "type": "nominal", "title": null}, "x2": {"field": "to"}, "y": {"field": "y", "type": "quantitative", "title": "Relative mRNA expression level"}}},
            {"data": {"name": "sig"}, "transform": [{"filter": "datum.g == 'IL1B'"}, {"fold": ["from", "to"], "as": ["end", "pos"]}], "mark": {"type": "rule", "strokeWidth": 1.8, "color": "black", "y2Offset": 8}, "encoding": {"x": {"field": "pos", "type": "nominal", "title": null}, "y": {"field": "y", "type": "quantitative", "title": "Relative mRNA expression level"}, "y2": {"field": "y"}}},
            {"data": {"name": "sig"}, "transform": [{"filter": "datum.g == 'IL1B'"}], "mark": {"type": "text", "fontSize": 29, "baseline": "alphabetic", "dy": -3, "color": "black"}, "encoding": {"x": {"field": "mid", "type": "nominal", "title": null}, "y": {"field": "y", "type": "quantitative", "title": "Relative mRNA expression level"}, "text": {"field": "lab"}}},
            {"data": {"name": "st"}, "transform": [{"filter": "datum.g == 'IL1B'"}], "mark": {"type": "rule", "strokeWidth": 2.2, "color": "black"}, "encoding": {"x": {"field": "t", "type": "nominal", "title": null}, "y": {"field": "lo", "type": "quantitative", "title": "Relative mRNA expression level"}, "y2": {"field": "hi"}}},
            {"data": {"name": "st"}, "transform": [{"filter": "datum.g == 'IL1B'"}, {"fold": ["lo", "hi"], "as": ["k", "e"]}], "mark": {"type": "tick", "size": 34, "thickness": 2.4, "color": "black", "opacity": 1}, "encoding": {"x": {"field": "t", "type": "nominal", "title": null}, "y": {"field": "e", "type": "quantitative", "title": "Relative mRNA expression level"}}},
            {"data": {"name": "st"}, "transform": [{"filter": "datum.g == 'IL1B'"}], "mark": {"type": "tick", "size": 66, "thickness": 2.6, "color": "black", "opacity": 1}, "encoding": {"x": {"field": "t", "type": "nominal", "title": null}, "y": {"field": "m", "type": "quantitative", "title": "Relative mRNA expression level"}}},
            {"data": {"name": "pts"}, "transform": [{"filter": "datum.g == 'IL1B'"}], "mark": {"type": "circle", "size": 360, "color": "black", "opacity": 1}, "encoding": {"x": {"field": "t", "type": "nominal", "title": null, "scale": {"domain": ["Mock", "a", "0h", "b", "7h", "c", "12h", "d", "24h"], "paddingInner": 0, "paddingOuter": 0.82}, "axis": {"values": ["Mock", "0h", "7h", "12h", "24h"]}}, "xOffset": {"field": "s", "type": "nominal", "scale": {"domain": ["L", "l", "C", "r", "R"], "paddingInner": 0, "paddingOuter": 0}}, "y": {"field": "v", "type": "quantitative", "title": "Relative mRNA expression level", "scale": {"type": "log", "domain": [0.1, 100], "nice": false}, "axis": {"values": [0.1, 0.2, 0.3, 0.4, 0.5, 0.6, 0.7, 0.8, 0.9, 1, 2, 3, 4, 5, 6, 7, 8, 9, 10, 20, 30, 40, 50, 60, 70, 80, 90, 100], "labelOverlap": false, "labelExpr": "abs(log(datum.value)/LN10 - round(log(datum.value)/LN10)) < 0.000001 ? format(datum.value, '~g') : ''", "tickSize": {"condition": {"test": "abs(log(datum.value)/LN10 - round(log(datum.value)/LN10)) < 0.000001", "value": 10}, "value": 5}}}}}
          ]
        }
      ]}
    ]},
    {"spacing": 0, "vconcat": [
      {"width": 1, "height": 7, "data": {"values": []}, "mark": "point", "encoding": {}},
      {"spacing": 0, "hconcat": [
        {"width": 1, "height": 1, "data": {"values": []}, "mark": "point", "encoding": {}},
        {
          "width": 517, "height": 348, "title": {"text": "TNF", "offset": 37},
          "layer": [
            {"data": {"name": "sig"}, "transform": [{"filter": "datum.g == 'TNF'"}], "mark": {"type": "rule", "strokeWidth": 1.8, "color": "black"}, "encoding": {"x": {"field": "from", "type": "nominal", "title": null}, "x2": {"field": "to"}, "y": {"field": "y", "type": "quantitative", "title": "Relative mRNA expression level"}}},
            {"data": {"name": "sig"}, "transform": [{"filter": "datum.g == 'TNF'"}, {"fold": ["from", "to"], "as": ["end", "pos"]}], "mark": {"type": "rule", "strokeWidth": 1.8, "color": "black", "y2Offset": 8}, "encoding": {"x": {"field": "pos", "type": "nominal", "title": null}, "y": {"field": "y", "type": "quantitative", "title": "Relative mRNA expression level"}, "y2": {"field": "y"}}},
            {"data": {"name": "sig"}, "transform": [{"filter": "datum.g == 'TNF'"}], "mark": {"type": "text", "fontSize": 29, "baseline": "alphabetic", "dy": -3, "color": "black"}, "encoding": {"x": {"field": "mid", "type": "nominal", "title": null}, "y": {"field": "y", "type": "quantitative", "title": "Relative mRNA expression level"}, "text": {"field": "lab"}}},
            {"data": {"name": "st"}, "transform": [{"filter": "datum.g == 'TNF'"}], "mark": {"type": "rule", "strokeWidth": 2.2, "color": "black"}, "encoding": {"x": {"field": "t", "type": "nominal", "title": null}, "y": {"field": "lo", "type": "quantitative", "title": "Relative mRNA expression level"}, "y2": {"field": "hi"}}},
            {"data": {"name": "st"}, "transform": [{"filter": "datum.g == 'TNF'"}, {"fold": ["lo", "hi"], "as": ["k", "e"]}], "mark": {"type": "tick", "size": 34, "thickness": 2.4, "color": "black", "opacity": 1}, "encoding": {"x": {"field": "t", "type": "nominal", "title": null}, "y": {"field": "e", "type": "quantitative", "title": "Relative mRNA expression level"}}},
            {"data": {"name": "st"}, "transform": [{"filter": "datum.g == 'TNF'"}], "mark": {"type": "tick", "size": 66, "thickness": 2.6, "color": "black", "opacity": 1}, "encoding": {"x": {"field": "t", "type": "nominal", "title": null}, "y": {"field": "m", "type": "quantitative", "title": "Relative mRNA expression level"}}},
            {"data": {"name": "pts"}, "transform": [{"filter": "datum.g == 'TNF'"}], "mark": {"type": "circle", "size": 360, "color": "black", "opacity": 1}, "encoding": {"x": {"field": "t", "type": "nominal", "title": null, "scale": {"domain": ["Mock", "a", "0h", "b", "7h", "c", "12h", "d", "24h"], "paddingInner": 0, "paddingOuter": 0.82}, "axis": {"values": ["Mock", "0h", "7h", "12h", "24h"]}}, "xOffset": {"field": "s", "type": "nominal", "scale": {"domain": ["L", "l", "C", "r", "R"], "paddingInner": 0, "paddingOuter": 0}}, "y": {"field": "v", "type": "quantitative", "title": "Relative mRNA expression level", "scale": {"type": "log", "domain": [0.1, 1000], "nice": false}, "axis": {"values": [0.1, 0.2, 0.3, 0.4, 0.5, 0.6, 0.7, 0.8, 0.9, 1, 2, 3, 4, 5, 6, 7, 8, 9, 10, 20, 30, 40, 50, 60, 70, 80, 90, 100, 200, 300, 400, 500, 600, 700, 800, 900, 1000], "labelOverlap": false, "labelExpr": "abs(log(datum.value)/LN10 - round(log(datum.value)/LN10)) < 0.000001 ? format(datum.value, '~g') : ''", "tickSize": {"condition": {"test": "abs(log(datum.value)/LN10 - round(log(datum.value)/LN10)) < 0.000001", "value": 10}, "value": 5}}}}}
          ]
        }
      ]}
    ]}
  ],
  "config": {
    "font": "Liberation Sans",
    "view": {"stroke": null},
    "axis": {"grid": false, "domainColor": "black", "domainWidth": 2.5, "tickColor": "black", "tickWidth": 2.2, "labelColor": "black", "titleColor": "black", "labelFont": "Liberation Sans", "titleFont": "Liberation Sans"},
    "axisX": {"labelAngle": -45, "labelFontSize": 29, "tickSize": 11, "labelPadding": 4},
    "axisY": {"labelFontSize": 26, "labelFontWeight": "bold", "tickSize": 10, "labelPadding": 2, "titleFontSize": 29, "titleFontWeight": "normal", "titlePadding": 6},
    "title": {"font": "Liberation Sans", "fontSize": 32, "fontWeight": "bold", "color": "black", "frame": "group", "anchor": "middle"}
  }
}
